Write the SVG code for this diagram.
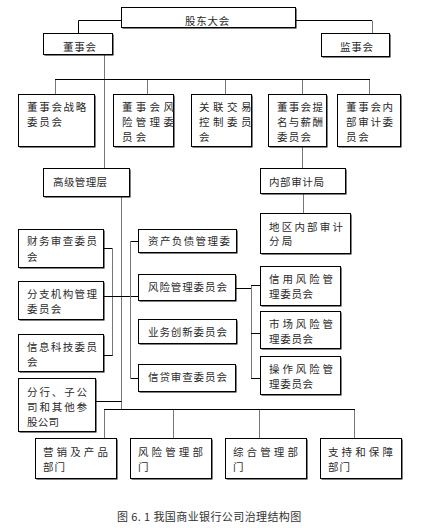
<svg xmlns="http://www.w3.org/2000/svg" width="443" height="528" viewBox="0 0 443 528">
<defs>
<style>
.b{fill:#fff;stroke:#000;stroke-width:1}
.s{fill:#000}
text{font-family:"Noto Sans CJK SC","Noto Sans",sans-serif;font-size:10.5px;fill:#2a2a2a}
.k{fill:none;stroke:#000;stroke-width:1}
.g{fill:none;stroke:#777;stroke-width:1}
.cap{font-size:11px;fill:#333}
</style>
</defs>
<rect width="443" height="528" fill="#fff"/>
<g id="connectors">
<path class="k" d="M121 20.5H78.5V33"/>
<path class="k" d="M296 20.5H372"/>
<path class="g" d="M372.5 20.5V33"/>
<path class="g" d="M104.5 55V168"/>
<path class="k" d="M55 79.5H370"/>
<path class="g" d="M55.5 80V94M147.5 80V94M225.5 80V94M302.5 80V94M369.5 80V94"/>
<path class="g" d="M302.5 147V168"/>
<path class="g" d="M303.5 194V213"/>
<path class="g" d="M121.5 197V409"/>
<path class="k" d="M104 248.5H112.5"/>
<path class="g" d="M112.5 248V356"/>
<path class="k" d="M104 355.5H112.5"/>
<path class="k" d="M104 296.5H138"/>
<path class="k" d="M138 241.5H130.5"/>
<path class="g" d="M130.5 241V378"/>
<path class="k" d="M130.5 378.5H138"/>
<path class="k" d="M236 288.5H251.5" stroke-width="2"/>
<path class="g" d="M251.5 285V379"/>
<path class="k" d="M251 285.5H260M251 333.5H260M251 378.5H260"/>
<path class="k" d="M96 401.5H121.5"/>
<path class="k" d="M104 409.5H355"/>
<path class="g" d="M104.5 410V438M173.5 410V438M259.5 410V438M354.5 410V438"/>
</g>
<g id="n-gudong"><rect class="s" x="122.5" y="8.5" width="174" height="20"/><rect class="b" x="121.5" y="7.5" width="174" height="20"/><text x="185" y="25" letter-spacing="0.75">股东大会</text></g>
<g id="n-dongshi"><rect class="s" x="44.5" y="34.5" width="69" height="21"/><rect class="b" x="43.5" y="33.5" width="69" height="21"/><text x="63" y="51" letter-spacing="0.8">董事会</text></g>
<g id="n-jianshi"><rect class="s" x="322.5" y="34.5" width="68" height="23"/><rect class="b" x="321.5" y="33.5" width="68" height="23"/><text x="340" y="51" letter-spacing="0.8">监事会</text></g>
<g id="n-zhanlue"><rect class="s" x="19.5" y="95.5" width="76" height="52"/><rect class="b" x="18.5" y="94.5" width="76" height="52"/><text x="27" y="111" letter-spacing="1.7">董事会战略</text><text x="27" y="126" letter-spacing="1.7">委员会</text></g>
<g id="n-fengxian"><rect class="s" x="114.5" y="95.5" width="60" height="52"/><rect class="b" x="113.5" y="94.5" width="60" height="52"/><text x="122" y="111" letter-spacing="3.3">董事会风</text><text x="122" y="126" letter-spacing="3.3">险管理委</text><text x="122" y="141" letter-spacing="3.3">员会</text></g>
<g id="n-guanlian"><rect class="s" x="192.5" y="95.5" width="60" height="52"/><rect class="b" x="191.5" y="94.5" width="60" height="52"/><text x="199" y="111" letter-spacing="3.5">关联交易</text><text x="199" y="126" letter-spacing="3.5">控制委员</text><text x="199" y="141" letter-spacing="3.5">会</text></g>
<g id="n-timing"><rect class="s" x="269.5" y="95.5" width="58" height="52"/><rect class="b" x="268.5" y="94.5" width="58" height="52"/><text x="277" y="111" letter-spacing="1.3">董事会提</text><text x="277" y="126" letter-spacing="1.3">名与薪酬</text><text x="277" y="141" letter-spacing="1.3">委员会</text></g>
<g id="n-neibu"><rect class="s" x="338.5" y="95.5" width="63" height="52"/><rect class="b" x="337.5" y="94.5" width="63" height="52"/><text x="346" y="111" letter-spacing="1.7">董事会内</text><text x="346" y="126" letter-spacing="1.7">部审计委</text><text x="346" y="141" letter-spacing="1.7">员会</text></g>
<g id="n-gaoji"><rect class="s" x="44.5" y="169.5" width="86" height="28"/><rect class="b" x="43.5" y="168.5" width="86" height="28"/><text x="53" y="186" letter-spacing="0.4">高级管理层</text></g>
<g id="n-shenjiju"><rect class="s" x="261.5" y="169.5" width="85" height="25"/><rect class="b" x="260.5" y="168.5" width="85" height="25"/><text x="269" y="186" letter-spacing="0.6">内部审计局</text></g>
<g id="n-fenju"><rect class="s" x="261.5" y="214.5" width="90" height="40"/><rect class="b" x="260.5" y="213.5" width="90" height="40"/><text x="269" y="231" letter-spacing="2.2">地区内部审计</text><text x="269" y="245" letter-spacing="2.2">分局</text></g>
<g id="n-caiwu"><rect class="s" x="19.5" y="230.5" width="85" height="38"/><rect class="b" x="18.5" y="229.5" width="85" height="38"/><text x="27" y="245" letter-spacing="1.4">财务审查委员</text><text x="27" y="261" letter-spacing="1.4">会</text></g>
<g id="n-fenzhi"><rect class="s" x="19.5" y="282.5" width="85" height="38"/><rect class="b" x="18.5" y="281.5" width="85" height="38"/><text x="27" y="298" letter-spacing="1.4">分支机构管理</text><text x="27" y="313" letter-spacing="1.4">委员会</text></g>
<g id="n-xinxi"><rect class="s" x="19.5" y="335.5" width="85" height="37"/><rect class="b" x="18.5" y="334.5" width="85" height="37"/><text x="27" y="351" letter-spacing="1.4">信息科技委员</text><text x="27" y="366" letter-spacing="1.4">会</text></g>
<g id="n-fenhang"><rect class="s" x="19.5" y="379.5" width="77" height="53"/><rect class="b" x="18.5" y="378.5" width="77" height="53"/><text x="27" y="396" letter-spacing="1.9">分行、子公</text><text x="27" y="411" letter-spacing="1.9">司和其他参</text><text x="27" y="426" letter-spacing="0.3">股公司</text></g>
<g id="n-zichan"><rect class="s" x="139.5" y="230.5" width="98" height="23"/><rect class="b" x="138.5" y="229.5" width="98" height="23"/><text x="148" y="245" letter-spacing="1.4">资产负债管理委</text></g>
<g id="n-fxgl"><rect class="s" x="139.5" y="275.5" width="97" height="26"/><rect class="b" x="138.5" y="274.5" width="97" height="26"/><text x="148" y="291" letter-spacing="0.9">风险管理委员会</text></g>
<g id="n-chuangxin"><rect class="s" x="139.5" y="320.5" width="98" height="24"/><rect class="b" x="138.5" y="319.5" width="98" height="24"/><text x="148" y="336" letter-spacing="0.9">业务创新委员会</text></g>
<g id="n-xindai"><rect class="s" x="139.5" y="365.5" width="97" height="27"/><rect class="b" x="138.5" y="364.5" width="97" height="27"/><text x="148" y="381" letter-spacing="0.9">信贷审查委员会</text></g>
<g id="n-xinyong"><rect class="s" x="261.5" y="267.5" width="80" height="39"/><rect class="b" x="260.5" y="266.5" width="80" height="39"/><text x="269" y="283" letter-spacing="2.9">信用风险管</text><text x="269" y="298" letter-spacing="0.7">理委员会</text></g>
<g id="n-shichang"><rect class="s" x="261.5" y="312.5" width="80" height="37"/><rect class="b" x="260.5" y="311.5" width="80" height="37"/><text x="269" y="328" letter-spacing="2.9">市场风险管</text><text x="269" y="343" letter-spacing="0.7">理委员会</text></g>
<g id="n-caozuo"><rect class="s" x="261.5" y="357.5" width="80" height="38"/><rect class="b" x="260.5" y="356.5" width="80" height="38"/><text x="269" y="373" letter-spacing="2.9">操作风险管</text><text x="269" y="388" letter-spacing="0.7">理委员会</text></g>
<g id="n-yingxiao"><rect class="s" x="36.5" y="439.5" width="81" height="40"/><rect class="b" x="35.5" y="438.5" width="81" height="40"/><text x="43" y="456" letter-spacing="3.1">营销及产品</text><text x="43" y="471" letter-spacing="1">部门</text></g>
<g id="n-fxbm"><rect class="s" x="131.5" y="439.5" width="81" height="40"/><rect class="b" x="130.5" y="438.5" width="81" height="40"/><text x="138" y="456" letter-spacing="3.1">风险管理部</text><text x="138" y="471" letter-spacing="1">门</text></g>
<g id="n-zonghe"><rect class="s" x="226.5" y="439.5" width="81" height="40"/><rect class="b" x="225.5" y="438.5" width="81" height="40"/><text x="233" y="456" letter-spacing="3.1">综合管理部</text><text x="233" y="471" letter-spacing="1">门</text></g>
<g id="n-zhichi"><rect class="s" x="321.5" y="439.5" width="81" height="40"/><rect class="b" x="320.5" y="438.5" width="81" height="40"/><text x="328" y="456" letter-spacing="3.1">支持和保障</text><text x="328" y="471" letter-spacing="1">部门</text></g>
<text class="cap" x="117" y="521" letter-spacing="0.4">图 6. 1 我国商业银行公司治理结构图</text>
</svg>
